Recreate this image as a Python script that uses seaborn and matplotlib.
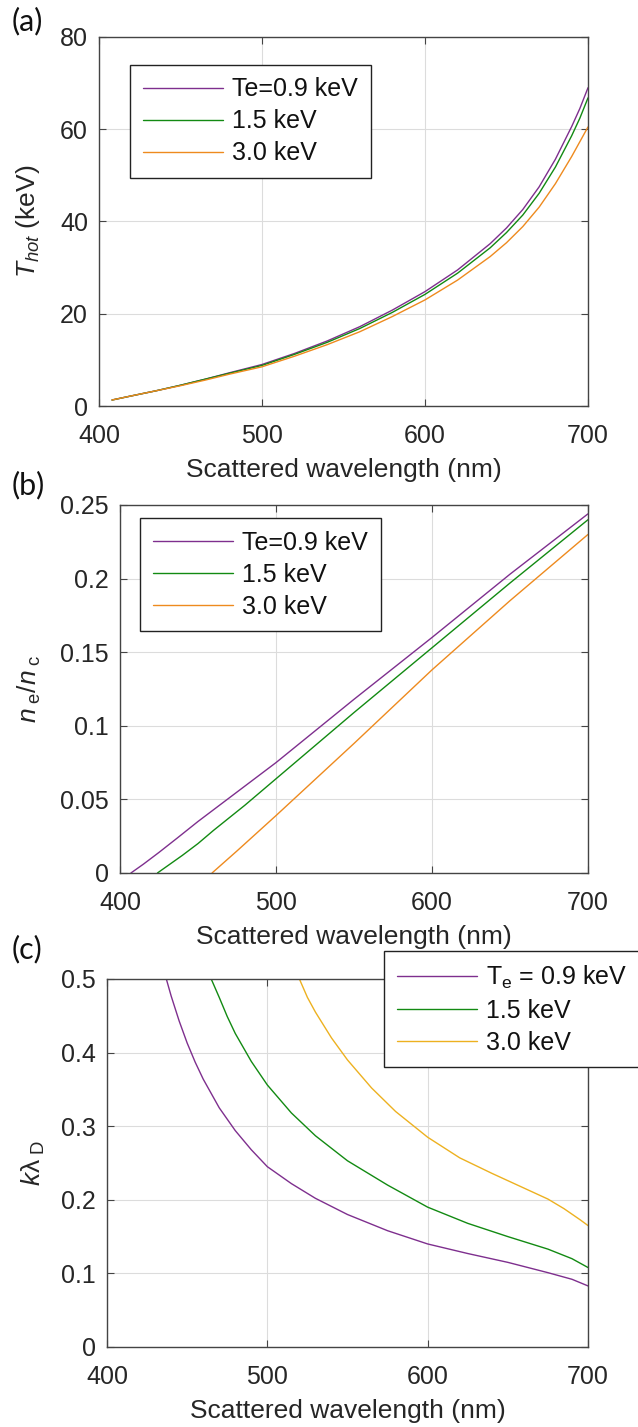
import numpy as np
import pandas as pd
import matplotlib
matplotlib.use("Agg")
import matplotlib.pyplot as plt
from matplotlib.lines import Line2D
import seaborn as sns

# ---------------- data ----------------
labels_ab = ["Te=0.9 keV", "1.5 keV", "3.0 keV"]
labels_c = [r"T$_{\mathrm{e}}$ = 0.9 keV", "1.5 keV", "3.0 keV"]

# (a) T_hot (keV)
wl_a = [408, 420, 435, 450, 465, 480, 500, 520, 540, 560, 580, 600, 620, 640,
        650, 660, 670, 680, 690, 695, 700]
thot_09 = [1.3, 2.2, 3.3, 4.5, 5.8, 7.2, 9.0, 11.4, 14.1, 17.2, 20.8, 24.8, 29.5,
           35.2, 38.6, 42.6, 47.5, 53.5, 60.6, 64.5, 69.0]
thot_15 = [1.3, 2.2, 3.3, 4.5, 5.8, 7.1, 8.8, 11.2, 13.8, 16.8, 20.3, 24.2, 28.8,
           34.3, 37.6, 41.4, 46.1, 51.8, 58.6, 62.4, 66.8]
thot_30 = [1.3, 2.2, 3.3, 4.4, 5.6, 6.9, 8.5, 10.8, 13.3, 16.1, 19.4, 23.0, 27.3,
           32.4, 35.4, 38.9, 43.1, 48.2, 54.1, 57.3, 60.5]

# (b) n_e / n_c
wl_b09 = [407, 415, 425, 437, 450, 475, 500, 550, 600, 650, 700]
ne_09 = [0.0, 0.006, 0.014, 0.024, 0.035, 0.055, 0.075, 0.118, 0.160, 0.203, 0.244]
wl_b15 = [424, 432, 440, 450, 460, 480, 500, 550, 600, 650, 700]
ne_15 = [0.0, 0.006, 0.012, 0.020, 0.029, 0.046, 0.064, 0.109, 0.153, 0.197, 0.240]
wl_b30 = [459, 475, 500, 550, 600, 650, 700]
ne_30 = [0.0, 0.015, 0.039, 0.088, 0.138, 0.185, 0.230]

# (c) k lambda_D
wl_c09 = [437, 440, 445, 450, 455, 460, 470, 480, 490, 500, 515, 530, 550, 575,
          600, 625, 650, 675, 690, 700]
kl_09 = [0.50, 0.477, 0.443, 0.413, 0.387, 0.364, 0.325, 0.294, 0.268, 0.245, 0.222,
         0.202, 0.18, 0.158, 0.14, 0.127, 0.115, 0.101, 0.092, 0.083]
wl_c15 = [465, 470, 475, 480, 490, 500, 515, 530, 550, 575, 600, 625, 650, 675,
          690, 700]
kl_15 = [0.50, 0.475, 0.449, 0.426, 0.388, 0.356, 0.318, 0.287, 0.253, 0.22, 0.19,
         0.168, 0.15, 0.133, 0.12, 0.108]
wl_c30 = [520, 525, 530, 540, 550, 565, 580, 600, 620, 640, 660, 675, 685, 695, 700]
kl_30 = [0.50, 0.475, 0.455, 0.42, 0.39, 0.352, 0.32, 0.285, 0.257, 0.236, 0.216,
         0.201, 0.188, 0.173, 0.165]

colors_ab = ["#7E2F8E", "#128A12", "#EE8A1E"]
colors_c = ["#7E2F8E", "#128A12", "#EDB120"]

# ---------------- style ----------------
sns.set_theme(style="white")
plt.rcParams["font.family"] = ["Liberation Sans", "DejaVu Sans"]
plt.rcParams["mathtext.fontset"] = "custom"
plt.rcParams["mathtext.rm"] = "Liberation Sans"
plt.rcParams["mathtext.it"] = "Liberation Sans:italic"
plt.rcParams["mathtext.default"] = "regular"

TFS = 18   # tick labels
LFS = 19   # axis labels
GFS = 18   # legend
DARK = "#262626"

fig = plt.figure(figsize=(6.38, 14.27), dpi=100)
W, H = 638.0, 1427.0


def ax_at(l, t, r, b):
    return fig.add_axes([l / W, 1 - b / H, (r - l) / W, (b - t) / H])


def make_df(wls, vals, labels):
    frames = []
    for w, v, lab in zip(wls, vals, labels):
        frames.append(pd.DataFrame({"wl": w, "val": v, "series": lab}))
    return pd.concat(frames, ignore_index=True)


def style_ax(ax, yticks, yticklabels, ylim, left_px, label_right_px):
    ax.set_xlim(400, 700)
    ax.set_ylim(*ylim)
    ax.set_xticks([400, 500, 600, 700])
    ax.set_yticks(yticks)
    ax.set_yticklabels(yticklabels)
    ax.grid(True, color="#dcdcdc", linewidth=0.8)
    ax.set_axisbelow(True)
    for s in ax.spines.values():
        s.set_color("#444444")
        s.set_linewidth(1.0)
    ax.tick_params(direction="in", length=5, width=0.8, color="#444444",
                   labelsize=TFS, labelcolor=DARK, top=True, right=True,
                   bottom=True, left=True)
    ax.tick_params(axis="x", pad=13)
    ax.tick_params(axis="y", pad=8)
    ax.set_xlabel("Scattered wavelength (nm)", fontsize=LFS, color=DARK, labelpad=7)
    pos = ax.get_position()
    wpx = pos.width * W
    ax.yaxis.set_label_coords((label_right_px - left_px) / wpx, 0.5)


def draw(ax, df, labels, colors):
    sns.lineplot(data=df, x="wl", y="val", hue="series", hue_order=labels,
                 palette=dict(zip(labels, colors)), linewidth=1.0, ax=ax,
                 legend=False, sort=True)


# (a)
axa = ax_at(99, 37, 588, 406)
dfa = make_df([wl_a, wl_a, wl_a], [thot_09, thot_15, thot_30], labels_ab)
draw(axa, dfa, labels_ab, colors_ab)
axa.set_ylabel(r"$\mathit{T}_{\mathit{hot}}$ (keV)", fontsize=LFS, color=DARK)
style_ax(axa, [0, 20, 40, 60, 80], ["0", "20", "40", "60", "80"], (0, 80), 99, 42)

# (b)
axb = ax_at(120, 505, 588, 873)
dfb = make_df([wl_b09, wl_b15, wl_b30], [ne_09, ne_15, ne_30], labels_ab)
draw(axb, dfb, labels_ab, colors_ab)
axb.set_ylabel(r"$\mathit{n}_{\ \mathrm{e}}/\mathit{n}_{\ \mathrm{c}}$", fontsize=LFS, color=DARK)
style_ax(axb, [0, 0.05, 0.1, 0.15, 0.2, 0.25],
         ["0", "0.05", "0.1", "0.15", "0.2", "0.25"], (0, 0.25), 120, 43)

# (c)
axc = ax_at(107, 979, 588, 1347)
dfc = make_df([wl_c09, wl_c15, wl_c30], [kl_09, kl_15, kl_30], labels_c)
draw(axc, dfc, labels_c, colors_c)
axc.set_ylabel(r"$\mathit{k}\lambda_{\ \mathrm{D}}$", fontsize=LFS, color=DARK)
style_ax(axc, [0, 0.1, 0.2, 0.3, 0.4, 0.5],
         ["0", "0.1", "0.2", "0.3", "0.4", "0.5"], (0, 0.5), 107, 47)


def add_legend(ax, labels, colors, x, y):
    handles = [Line2D([], [], color=c, linewidth=1.0) for c in colors]
    leg = ax.legend(handles, labels, loc="upper left",
                    bbox_to_anchor=(x / W, 1 - y / H), bbox_transform=fig.transFigure,
                    fontsize=GFS, frameon=True, fancybox=False, borderaxespad=0,
                    handlelength=3.2, handletextpad=0.4, labelspacing=0.32,
                    borderpad=0.5, framealpha=1)
    leg.get_frame().set_edgecolor("#222222")
    leg.get_frame().set_linewidth(1.0)
    for t in leg.get_texts():
        t.set_color("#111111")
    return leg


add_legend(axa, labels_ab, colors_ab, 130, 65)
add_legend(axb, labels_ab, colors_ab, 140, 518)
legc = add_legend(axc, labels_c, colors_c, 384, 951)
legc.set_clip_on(False)

# panel letters
for lab, y in [("(a)", 21), ("(b)", 485), ("(c)", 949)]:
    fig.text(12 / W, 1 - y / H, lab, fontsize=22, family=["Lato", "DejaVu Sans"],
             color="#111111", va="center", ha="left")

fig.savefig("out.png", dpi=100)
